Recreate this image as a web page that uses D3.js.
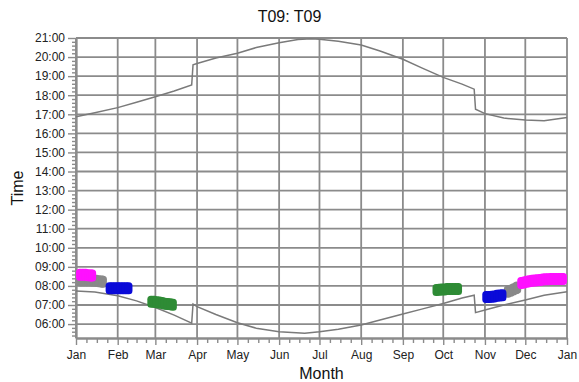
<!DOCTYPE html>
<html>
<head>
<meta charset="utf-8">
<script src="https://cdn.jsdelivr.net/npm/d3@7"></script>
<style>
  html, body { margin: 0; padding: 0; background: #fff; }
  svg { display: block; font-family: "Liberation Sans", Arial, sans-serif; }
</style>
</head>
<body>
<svg id="chart" width="579" height="382"></svg>
<script>
// Month tick labels along the x axis
const monthLabels = ["Jan","Feb","Mar","Apr","May","Jun","Jul","Aug","Sep","Oct","Nov","Dec","Jan"];
// Hour tick labels on the y axis
const hourLabels = ["06:00","07:00","08:00","09:00","10:00","11:00","12:00","13:00","14:00","15:00","16:00","17:00","18:00","19:00","20:00","21:00"];

// Sunset time through the year (local clock time)
const sunset = [
  ["2009-01-01","16:52"],["2009-01-15","17:05"],["2009-02-01","17:21"],["2009-02-15","17:38"],
  ["2009-03-01","17:55"],["2009-03-15","18:13"],["2009-03-28","18:32"],["2009-03-29","19:36"],
  ["2009-04-01","19:40"],["2009-04-15","19:57"],["2009-05-01","20:12"],["2009-05-15","20:30"],
  ["2009-06-01","20:45"],["2009-06-15","20:55"],["2009-06-25","20:58"],["2009-07-01","20:56"],
  ["2009-07-15","20:50"],["2009-08-01","20:38"],["2009-08-15","20:19"],["2009-09-01","19:53"],
  ["2009-09-15","19:26"],["2009-10-01","18:56"],["2009-10-15","18:35"],["2009-10-24","18:19"],
  ["2009-10-25","17:16"],["2009-11-01","17:02"],["2009-11-15","16:48"],["2009-12-01","16:42"],
  ["2009-12-15","16:40"],["2010-01-01","16:50"]
];
// Sunrise time through the year (local clock time)
const sunrise = [
  ["2009-01-01","07:44"],["2009-01-15","07:41"],["2009-02-01","07:29"],["2009-02-15","07:13"],
  ["2009-03-01","06:52"],["2009-03-15","06:28"],["2009-03-28","06:03"],["2009-03-29","07:03"],
  ["2009-04-01","06:55"],["2009-04-15","06:30"],["2009-05-01","06:04"],["2009-05-15","05:47"],
  ["2009-06-01","05:36"],["2009-06-20","05:31"],["2009-07-01","05:36"],["2009-07-15","05:44"],
  ["2009-08-01","05:57"],["2009-08-15","06:13"],["2009-09-01","06:32"],["2009-09-15","06:47"],
  ["2009-10-01","07:05"],["2009-10-15","07:22"],["2009-10-24","07:31"],["2009-10-25","06:36"],
  ["2009-11-01","06:44"],["2009-11-15","07:00"],["2009-12-01","07:16"],["2009-12-15","07:31"],
  ["2010-01-01","07:42"]
];

// Recorded times, grouped by colour
const grayPts = [
  ["2009-01-04","08:17"],["2009-01-06","08:17"],["2009-01-08","08:17"],["2009-01-10","08:17"],
  ["2009-01-12","08:17"],["2009-01-14","08:16"],["2009-01-16","08:16"],["2009-01-18","08:15"],
  ["2009-01-20","08:14"],["2009-01-21","08:13"],
  ["2009-11-18","07:42"],["2009-11-20","07:45"],["2009-11-22","07:49"],["2009-11-24","07:53"],
  ["2009-11-25","07:55"]
];
const magentaPts = [
  ["2009-01-04","08:35"],["2009-01-06","08:35"],["2009-01-08","08:35"],["2009-01-10","08:34"],
  ["2009-01-12","08:33"],["2009-01-13","08:33"],
  ["2009-11-28","08:09"],["2009-11-30","08:11"],["2009-12-02","08:13"],["2009-12-04","08:15"],
  ["2009-12-06","08:16"],["2009-12-08","08:17"],["2009-12-10","08:18"],["2009-12-12","08:19"],
  ["2009-12-14","08:20"],["2009-12-16","08:21"],["2009-12-18","08:21"],["2009-12-20","08:22"],
  ["2009-12-22","08:22"],["2009-12-24","08:22"],["2009-12-26","08:22"],["2009-12-28","08:22"],
  ["2009-12-29","08:22"]
];
const bluePts = [
  ["2009-01-26","07:53"],["2009-01-28","07:53"],["2009-01-30","07:53"],["2009-02-01","07:53"],
  ["2009-02-03","07:53"],["2009-02-05","07:53"],["2009-02-07","07:53"],["2009-02-09","07:53"],
  ["2009-11-02","07:25"],["2009-11-04","07:25"],["2009-11-06","07:26"],["2009-11-08","07:27"],
  ["2009-11-10","07:29"],["2009-11-12","07:30"],["2009-11-14","07:31"]
];
const greenPts = [
  ["2009-02-26","07:10"],["2009-02-28","07:10"],["2009-03-02","07:09"],["2009-03-04","07:08"],
  ["2009-03-06","07:06"],["2009-03-08","07:04"],["2009-03-10","07:03"],["2009-03-12","07:02"],
  ["2009-03-14","07:01"],
  ["2009-09-26","07:47"],["2009-09-28","07:48"],["2009-09-30","07:49"],["2009-10-02","07:49"],
  ["2009-10-04","07:50"],["2009-10-06","07:50"],["2009-10-08","07:50"],["2009-10-10","07:50"],
  ["2009-10-12","07:50"]
];

const parseDate = d3.timeParse("%Y-%m-%d");
const toHours = s => { const [h, m] = s.split(":").map(Number); return h + m / 60; };

const svg = d3.select("#chart");
const plotLeft = 76, plotRight = 567, plotTop = 38, plotBottom = 338;

const x = d3.scaleTime()
  .domain([parseDate("2009-01-01"), parseDate("2010-01-01")])
  .range([plotLeft, plotRight]);
const y = d3.scaleLinear().domain([5.27, 21]).range([plotBottom, plotTop]);

const gridColor = "#8b8b8b";
const months = d3.timeMonth.range(parseDate("2009-01-01"), d3.timeDay.offset(parseDate("2010-01-01"), 1));
const hours = hourLabels.map(toHours);

// Grid
const grid = svg.append("g");
grid.selectAll("line.v").data(months).join("line")
  .attr("x1", d => x(d)).attr("x2", d => x(d))
  .attr("y1", plotTop).attr("y2", plotBottom)
  .attr("stroke", gridColor).attr("stroke-width", 1.8);
grid.selectAll("line.h").data(hours).join("line")
  .attr("x1", plotLeft).attr("x2", plotRight)
  .attr("y1", d => y(d)).attr("y2", d => y(d))
  .attr("stroke", gridColor).attr("stroke-width", 1.8);

// Minor ticks: quarter months, 12-minute steps
const minorX = [];
for (let i = 0; i < months.length - 1; i++) {
  const a = +months[i], b = +months[i + 1];
  for (let k = 1; k < 4; k++) minorX.push(new Date(a + (b - a) * k / 4));
}
const minorY = d3.range(27, 106).map(v => v / 5).filter(v => v >= 5.27 && Math.abs(v - Math.round(v)) > 1e-6);

const styleAxis = g => {
  g.selectAll(".domain").attr("stroke", gridColor).attr("stroke-width", 1.8);
  g.selectAll(".tick line").attr("stroke", gridColor).attr("stroke-width", 1.4);
  g.selectAll("text").attr("fill", "#222").attr("font-size", 12)
    .attr("font-family", "'Liberation Sans', Arial, sans-serif");
};

svg.append("g").attr("transform", `translate(0,${plotBottom})`)
  .call(d3.axisBottom(x).tickValues(minorX).tickSize(5).tickFormat("").tickSizeOuter(0))
  .call(styleAxis);
svg.append("g").attr("transform", `translate(0,${plotBottom})`)
  .call(d3.axisBottom(x).tickValues(months).tickSize(7).tickPadding(5).tickSizeOuter(0)
    .tickFormat((d, i) => monthLabels[i]))
  .call(styleAxis);
svg.append("g").attr("transform", `translate(${plotLeft},0)`)
  .call(d3.axisLeft(y).tickValues(minorY).tickSize(4).tickFormat("").tickSizeOuter(0))
  .call(styleAxis);
svg.append("g").attr("transform", `translate(${plotLeft},0)`)
  .call(d3.axisLeft(y).tickValues(hours).tickSize(8).tickPadding(3).tickSizeOuter(0)
    .tickFormat((d, i) => hourLabels[i]))
  .call(styleAxis);

// Sunrise / sunset curves
const line = d3.line().x(d => x(parseDate(d[0]))).y(d => y(toHours(d[1])));
[sunset, sunrise].forEach(s => {
  svg.append("path").datum(s).attr("d", line)
    .attr("fill", "none").attr("stroke", "#7a7a7a").attr("stroke-width", 1.5);
});

// Recorded points, drawn as small rounded blocks that merge into bands
const markW = 8, markH = 12;
const groups = [
  { pts: grayPts, color: "#898989" },
  { pts: greenPts, color: "#2e8b35" },
  { pts: bluePts, color: "#0a0ad8" },
  { pts: magentaPts, color: "#ff10ff" }
];
groups.forEach(gp => {
  svg.append("g").selectAll("rect").data(gp.pts).join("rect")
    .attr("x", d => x(parseDate(d[0])) - markW / 2)
    .attr("y", d => y(toHours(d[1])) - markH / 2)
    .attr("width", markW).attr("height", markH)
    .attr("rx", 3.5).attr("ry", 3.5)
    .attr("fill", gp.color);
});

// Titles
svg.append("text").attr("x", 289.5).attr("y", 21.5).attr("text-anchor", "middle")
  .attr("font-size", 16).attr("fill", "#111").text("T09: T09");
svg.append("text").attr("x", (plotLeft + plotRight) / 2).attr("y", 379).attr("text-anchor", "middle")
  .attr("font-size", 16).attr("fill", "#111").text("Month");
svg.append("text").attr("transform", `translate(23,${(plotTop + plotBottom) / 2}) rotate(-90)`)
  .attr("text-anchor", "middle").attr("font-size", 16).attr("fill", "#111").text("Time");
</script>
</body>
</html>
